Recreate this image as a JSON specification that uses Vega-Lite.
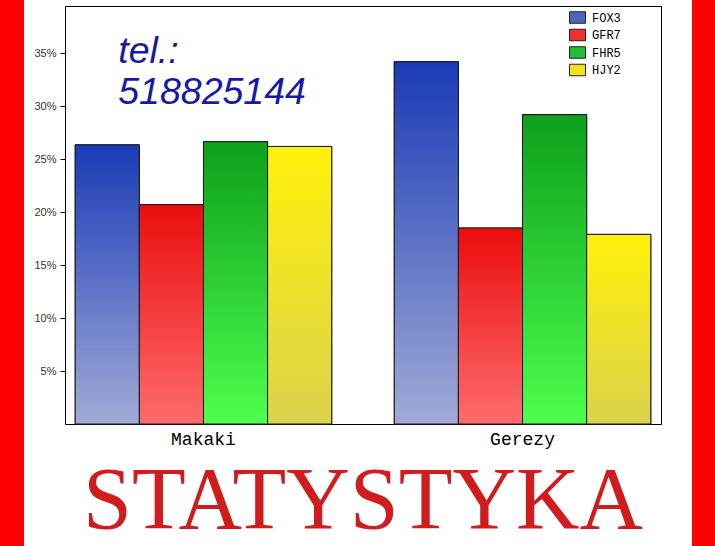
{
  "$schema": "https://vega.github.io/schema/vega-lite/v6.json",
  "padding": 0,
  "background": "white",
  "spacing": 9,
  "config": {"view": {"stroke": null}},
  "hconcat": [
    {"width": 24, "height": 546, "view": {"fill": "#ff0000", "stroke": null}, "data": {"values": []}, "mark": "point"},
    {
      "spacing": 4,
      "vconcat": [
        {"width": 1, "height": 1, "view": {"stroke": null}, "data": {"values": []}, "mark": "point"},
        {
          "width": 596,
          "height": 418,
          "view": {"stroke": "#000000", "strokeWidth": 1},
          "title": {"text": "STATYSTYKA", "orient": "bottom", "anchor": "middle", "font": "Liberation Serif", "fontSize": 88, "fontWeight": "normal", "color": "#d01c1c", "offset": 10},
          "data": {"values": [
            {"group": "Makaki", "series": "FOX3", "value": 0.2635},
            {"group": "Makaki", "series": "GFR7", "value": 0.207},
            {"group": "Makaki", "series": "FHR5", "value": 0.2665},
            {"group": "Makaki", "series": "HJY2", "value": 0.262},
            {"group": "Gerezy", "series": "FOX3", "value": 0.342},
            {"group": "Gerezy", "series": "GFR7", "value": 0.185},
            {"group": "Gerezy", "series": "FHR5", "value": 0.292},
            {"group": "Gerezy", "series": "HJY2", "value": 0.179}
          ]},
          "layer": [
            {
              "mark": {"type": "bar", "stroke": "#1a1a1a", "strokeWidth": 1},
              "encoding": {
                "x": {"field": "group", "type": "nominal", "sort": ["Makaki", "Gerezy"], "scale": {"paddingInner": 0.196, "paddingOuter": 0.032},
                  "axis": {"title": null, "ticks": false, "domain": false, "labelAngle": 0, "labelFont": "Liberation Mono", "labelFontSize": 18, "labelColor": "#000000", "labelPadding": 6}},
                "xOffset": {"field": "series", "type": "nominal", "sort": ["FOX3", "GFR7", "FHR5", "HJY2"], "scale": {"paddingInner": 0, "paddingOuter": 0}},
                "y": {"field": "value", "type": "quantitative", "scale": {"domain": [0, 0.3946], "nice": false, "zero": true},
                  "axis": {"title": null, "values": [0.05, 0.1, 0.15, 0.2, 0.25, 0.3, 0.35], "format": ".0%", "grid": false, "domain": false, "ticks": true, "tickSize": 5, "tickColor": "#000000", "labelColor": "#333333", "labelFont": "Liberation Sans", "labelFontSize": 11, "labelPadding": 4}},
                "color": {"field": "series", "type": "nominal", "sort": ["FOX3", "GFR7", "FHR5", "HJY2"],
                  "scale": {"domain": ["FOX3", "GFR7", "FHR5", "HJY2"], "range": ["#4a64c0", "#f03030", "#22c030", "#f0e020"]},
                  "legend": {
                    "orient": "none", "legendX": 569, "legendY": 9, "title": null,
                    "symbolType": "M-1,-0.72L1,-0.72L1,0.72L-1,0.72Z", "symbolSize": 256,
                    "symbolStrokeColor": "#222222", "symbolStrokeWidth": 1, "symbolOpacity": 1,
                    "labelFont": "Liberation Mono", "labelFontSize": 12, "labelColor": "#000000", "labelOffset": 6,
                    "rowPadding": 0.5, "padding": 0
                  }}
              }
            },
            {
              "mark": {"type": "bar", "stroke": "#1a1a1a", "strokeWidth": 1},
              "encoding": {
                "x": {"field": "group", "type": "nominal", "sort": ["Makaki", "Gerezy"]},
                "xOffset": {"field": "series", "type": "nominal", "sort": ["FOX3", "GFR7", "FHR5", "HJY2"]},
                "y": {"field": "value", "type": "quantitative"},
                "color": {
                  "condition": [
                    {"test": "datum.series === 'FOX3'", "value": {"gradient": "linear", "x1": 0, "y1": 0, "x2": 0, "y2": 1, "stops": [{"offset": 0, "color": "#1b3bb6"}, {"offset": 1, "color": "#a0abd6"}]}},
                    {"test": "datum.series === 'GFR7'", "value": {"gradient": "linear", "x1": 0, "y1": 0, "x2": 0, "y2": 1, "stops": [{"offset": 0, "color": "#ea0e0e"}, {"offset": 1, "color": "#ff6b6b"}]}},
                    {"test": "datum.series === 'FHR5'", "value": {"gradient": "linear", "x1": 0, "y1": 0, "x2": 0, "y2": 1, "stops": [{"offset": 0, "color": "#0ea01c"}, {"offset": 1, "color": "#4dff4d"}]}}
                  ],
                  "value": {"gradient": "linear", "x1": 0, "y1": 0, "x2": 0, "y2": 1, "stops": [{"offset": 0, "color": "#fff10a"}, {"offset": 1, "color": "#dbd24c"}]}
                }
              }
            },
            {
              "data": {"values": [{"line1": "tel.:", "line2": "518825144"}]},
              "mark": {"type": "text", "align": "left", "baseline": "alphabetic", "dx": 43, "font": "Liberation Sans", "fontSize": 37.5, "fontStyle": "italic", "color": "#1818a8", "lineHeight": 41},
              "encoding": {
                "x": {"datum": "Makaki", "type": "nominal", "bandPosition": 0},
                "y": {"datum": 0.3408, "type": "quantitative"},
                "text": {"value": ["tel.:", "518825144"]}
              }
            }
          ]
        }
      ]
    },
    {"width": 12, "height": 1, "view": {"stroke": null}, "data": {"values": []}, "mark": "point"},
    {"width": 24, "height": 546, "view": {"fill": "#ff0000", "stroke": null}, "data": {"values": []}, "mark": "point"}
  ]
}
